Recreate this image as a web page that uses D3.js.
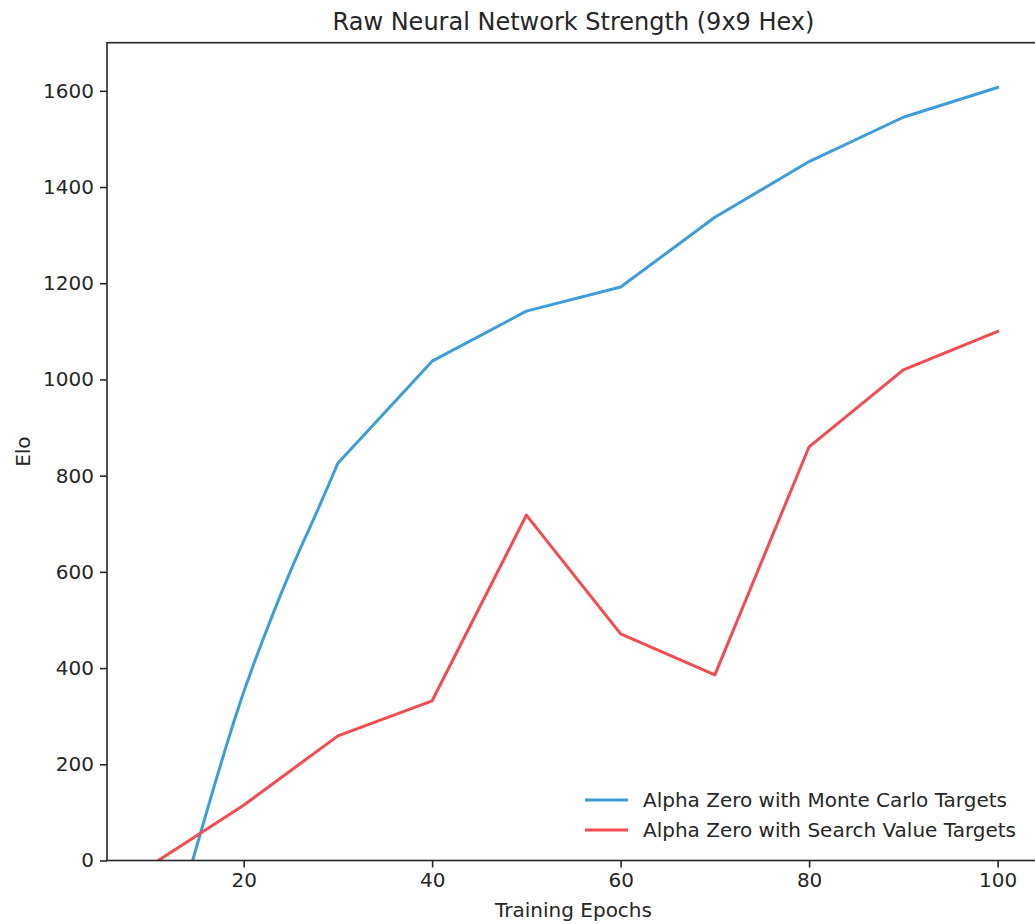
<!DOCTYPE html>
<html>
<head>
<meta charset="utf-8">
<script src="https://cdn.jsdelivr.net/npm/d3@7/dist/d3.min.js"></script>
<style>
  html, body { margin: 0; padding: 0; background: #fff; }
  svg { display: block; font-family: "DejaVu Sans", sans-serif; }
</style>
</head>
<body>
<svg id="chart" width="1035" height="924"></svg>
<script>
// Training epochs and Elo ratings for the two training targets
const monteCarloEpochs = [14, 15, 16, 17, 18, 19, 20, 21, 22, 23, 24, 25, 26, 27, 28, 29, 30, 40, 50, 60, 70, 80, 90, 100];
const monteCarloElo    = [-40, 28, 96, 163, 228, 291, 350, 405, 457, 507, 556, 603, 648, 691, 735, 780, 826, 1038, 1142, 1192, 1337, 1453, 1545, 1607];

const searchValueEpochs = [10, 20, 30, 40, 50, 60, 70, 80, 90, 100];
const searchValueElo    = [-12, 115, 259, 332, 718, 471, 386, 860, 1020, 1100];

const xTicks = [20, 40, 60, 80, 100];
const yTicks = [0, 200, 400, 600, 800, 1000, 1200, 1400, 1600];

const seriesNames = ["Alpha Zero with Monte Carlo Targets", "Alpha Zero with Search Value Targets"];
const seriesColors = ["#3d9ddb", "#f24b50"];

const titleText = "Raw Neural Network Strength (9x9 Hex)";
const xLabel = "Training Epochs";
const yLabel = "Elo";

// Plot area
const plotLeft = 107, plotTop = 42.7, plotRight = 1040, plotBottom = 860.5;

const svg = d3.select("#chart");

const x = d3.scaleLinear().domain([5.5, 104.5]).range([plotLeft, plotRight]);
const y = d3.scaleLinear().domain([0, 1700]).range([plotBottom, plotTop]);

svg.append("defs").append("clipPath").attr("id", "plot-clip")
  .append("rect").attr("x", plotLeft).attr("y", plotTop)
  .attr("width", plotRight - plotLeft).attr("height", plotBottom - plotTop);

const series = [
  { name: seriesNames[0], color: seriesColors[0], pts: monteCarloEpochs.map((e, i) => [e, monteCarloElo[i]]) },
  { name: seriesNames[1], color: seriesColors[1], pts: searchValueEpochs.map((e, i) => [e, searchValueElo[i]]) }
];

const line = d3.line().x(d => x(d[0])).y(d => y(d[1]));

const plot = svg.append("g").attr("clip-path", "url(#plot-clip)");
series.forEach(s => {
  plot.append("path")
    .datum(s.pts)
    .attr("d", line)
    .attr("fill", "none")
    .attr("stroke", s.color)
    .attr("stroke-width", 3)
    .attr("stroke-linejoin", "round")
    .attr("stroke-linecap", "square");
});

// Axes
const axisColor = "#262626";
const xAxis = d3.axisBottom(x).tickValues(xTicks).tickFormat(d3.format("d")).tickSize(7).tickPadding(5);
const yAxis = d3.axisLeft(y).tickValues(yTicks).tickFormat(d3.format("d")).tickSize(7).tickPadding(6);

const gx = svg.append("g").attr("transform", `translate(0,${plotBottom})`).call(xAxis);
const gy = svg.append("g").attr("transform", `translate(${plotLeft},0)`).call(yAxis);

[gx, gy].forEach(g => {
  g.select(".domain").remove();
  g.selectAll(".tick line").attr("stroke", axisColor).attr("stroke-width", 1.6);
  g.selectAll(".tick text")
    .attr("fill", axisColor)
    .style("font-family", "'DejaVu Sans', sans-serif")
    .style("font-size", "20px");
});

// Spines
svg.append("rect")
  .attr("x", plotLeft).attr("y", plotTop)
  .attr("width", plotRight - plotLeft).attr("height", plotBottom - plotTop)
  .attr("fill", "none").attr("stroke", axisColor).attr("stroke-width", 1.6);

// Title and axis labels
svg.append("text")
  .attr("x", (plotLeft + plotRight) / 2).attr("y", 30)
  .attr("text-anchor", "middle")
  .attr("fill", axisColor)
  .style("font-size", "24px")
  .text(titleText);

svg.append("text")
  .attr("x", (plotLeft + plotRight) / 2).attr("y", 917)
  .attr("text-anchor", "middle")
  .attr("fill", axisColor)
  .style("font-size", "20px")
  .text(xLabel);

svg.append("text")
  .attr("transform", `translate(30,${(plotTop + plotBottom) / 2}) rotate(-90)`)
  .attr("text-anchor", "middle")
  .attr("fill", axisColor)
  .style("font-size", "20px")
  .text(yLabel);

// Legend
const legend = svg.append("g").attr("transform", "translate(585,800)");
series.forEach((s, i) => {
  const row = legend.append("g").attr("transform", `translate(0,${i * 30})`);
  row.append("line")
    .attr("x1", 0).attr("x2", 43).attr("y1", 0).attr("y2", 0)
    .attr("stroke", s.color).attr("stroke-width", 3);
  row.append("text")
    .attr("x", 58).attr("y", 0).attr("dy", "0.36em")
    .attr("fill", axisColor)
    .style("font-size", "20px")
    .text(s.name);
});
</script>
</body>
</html>
